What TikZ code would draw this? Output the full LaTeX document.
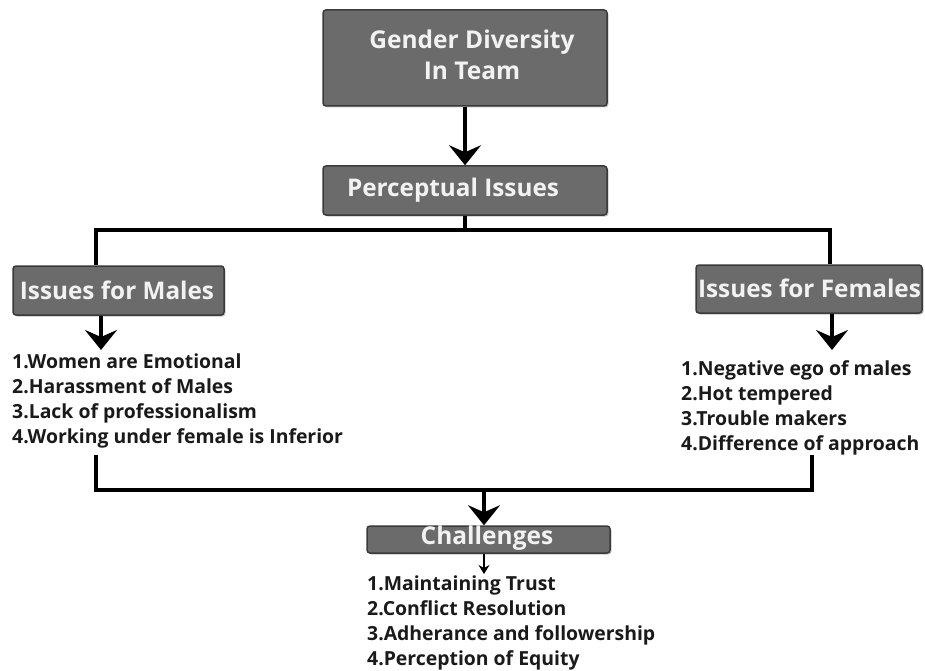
\documentclass[tikz,border=0pt]{standalone}
\usepackage{fontspec}
\setmainfont{Open Sans}
\usetikzlibrary{arrows.meta,shadows}
\definecolor{boxfill}{HTML}{6B6B6B}
\definecolor{boxline}{HTML}{3A3A3A}
\definecolor{boxtxt}{HTML}{F2F2F2}
\definecolor{listtxt}{HTML}{1A1A1A}
\begin{document}
\begin{tikzpicture}[x=1pt,y=-1pt,
  gbox/.style={draw=boxline,line width=1.5pt,fill=boxfill,rounded corners=3pt,
    inner sep=0pt,drop shadow={shadow xshift=1.5pt,shadow yshift=-1.5pt,opacity=0.45}},
  btext/.style={text=boxtxt,font=\bfseries\fontsize{24.3}{28}\selectfont,inner sep=0pt,align=center},
  item/.style={anchor=base west,inner sep=0pt,text=listtxt,font=\bfseries\fontsize{19.4}{25}\selectfont},
  conn/.style={line width=3.5pt,draw=black},
  arr/.style={line width=3.5pt,draw=black,-{Stealth[length=20pt,width=32pt,inset=7pt]}},
  thinarr/.style={line width=1.3pt,draw=black,-{Stealth[length=9pt,width=11pt,inset=3pt]}}]
\useasboundingbox (0,0) rectangle (925,671);
\fill[white] (0,0) rectangle (925,671);
% boxes
\node[gbox,minimum width=284pt,minimum height=96pt] (top) at (465,58) {};
\node[btext,font=\bfseries\fontsize{24.5}{31}\selectfont] (toptxt) at (472,55) {Gender Diversity\\In Team};
\node[gbox,minimum width=284pt,minimum height=49pt] (pi) at (465,190.5) {};
\node[btext] (pitxt) at (453,190) {Perceptual Issues};
\node[gbox,minimum width=211pt,minimum height=49pt] (males) at (118.5,290.5) {};
\node[btext] (malestxt) at (117,290) {Issues for Males};
\node[gbox,minimum width=226pt,minimum height=48pt] (females) at (809,289) {};
\node[btext] (femalestxt) at (809.5,288) {Issues for Females};
\node[gbox,minimum width=243pt,minimum height=27pt] (ch) at (488.5,539.5) {};
\node[btext,font=\bfseries\fontsize{24.5}{30}\selectfont] (chtxt) at (487,538) {Challenges};
% lists
\node[item] (m1) at (12,368) {1.Women are Emotional};
\node[item] (m2) at (12,393) {2.Harassment of Males};
\node[item] (m3) at (12,418) {3.Lack of professionalism};
\node[item] (m4) at (12,443) {4.Working under female is Inferior};
\node[item] (f1) at (681,375) {1.Negative ego of males};
\node[item] (f2) at (681,400) {2.Hot tempered};
\node[item] (f3) at (681,425) {3.Trouble makers};
\node[item] (f4) at (681,450) {4.Difference of approach};
\node[item] (c1) at (367,590) {1.Maintaining Trust};
\node[item] (c2) at (367,615) {2.Conflict Resolution};
\node[item] (c3) at (367,640) {3.Adherance and followership};
\node[item] (c4) at (367,665) {4.Perception of Equity};
% connectors
\draw[arr] (top.south) -- (pi.north);
\coordinate (busL) at (96,230);
\coordinate (busR) at (830,230);
\draw[conn] (pi.south) -- (pi.south |- busL);
\draw[conn] ([xshift=-1.75pt]busL) -- ([xshift=1.75pt]busR);
\draw[conn] (busL) -- (busL |- males.north);
\draw[conn] (busR) -- (busR |- females.north);
\coordinate (marr) at (101,350);
\coordinate (farr) at (832,350);
\draw[arr] (marr |- males.south) -- (marr);
\draw[arr] (farr |- females.south) -- (farr);
\coordinate (ml) at (96,455);
\coordinate (mr) at (812,455);
\coordinate (bL) at (96,490);
\coordinate (bR) at (812,490);
\coordinate (bM) at (484,490);
\draw[conn] (ml) -- (bL);
\draw[conn] (mr) -- (bR);
\draw[conn] ([xshift=-1.75pt]bL) -- ([xshift=1.75pt]bR);
\draw[arr] (bM) -- (bM |- ch.north);
\coordinate (carr) at (484,574);
\draw[thinarr] (carr |- ch.south) -- (carr);
\end{tikzpicture}
\end{document}
